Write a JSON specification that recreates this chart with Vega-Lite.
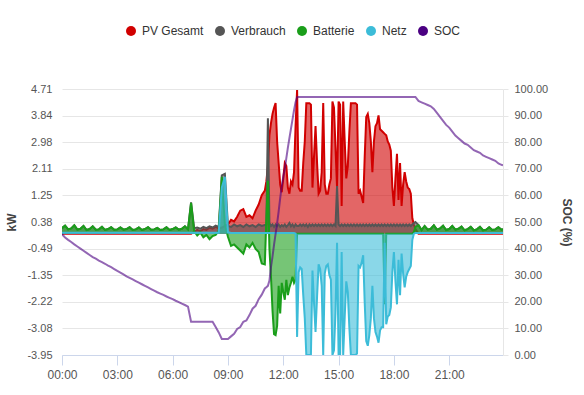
{
  "$schema": "https://vega.github.io/schema/vega-lite/v6.json",
  "width": 441,
  "height": 266,
  "autosize": {"type": "none"},
  "padding": {"left": 62, "top": 89, "right": 81, "bottom": 40},
  "config": {
    "font": "Liberation Sans",
    "view": {"stroke": null},
    "legend": {
      "orient": "none", "legendX": 63, "legendY": -64, "direction": "horizontal",
      "symbolType": "circle", "symbolSize": 100, "symbolStrokeWidth": 0, "symbolOpacity": 1,
      "labelFontSize": 12, "labelColor": "#333333", "labelOffset": 5, "columnPadding": 10
    }
  },
  "data": {"values": [
    {"t":"2024-06-01T00:00","pv":0,"vb":0.18,"bat":0.18,"netz":0.03,"soc":45.4},
    {"t":"2024-06-01T00:10","pv":0,"vb":0.26,"bat":0.26,"netz":0.03,"soc":44.2},
    {"t":"2024-06-01T00:20","pv":0,"vb":0.14,"bat":0.14,"netz":0.03,"soc":43.3},
    {"t":"2024-06-01T00:30","pv":0,"vb":0.17,"bat":0.17,"netz":0.03,"soc":42.5},
    {"t":"2024-06-01T00:40","pv":0,"vb":0.27,"bat":0.27,"netz":0.03,"soc":41.6},
    {"t":"2024-06-01T00:50","pv":0,"vb":0.13,"bat":0.13,"netz":0.03,"soc":40.8},
    {"t":"2024-06-01T01:00","pv":0,"vb":0.16,"bat":0.16,"netz":0.03,"soc":40.0},
    {"t":"2024-06-01T01:10","pv":0,"vb":0.25,"bat":0.25,"netz":0.03,"soc":39.2},
    {"t":"2024-06-01T01:20","pv":0,"vb":0.12,"bat":0.12,"netz":0.03,"soc":38.4},
    {"t":"2024-06-01T01:30","pv":0,"vb":0.15,"bat":0.15,"netz":0.03,"soc":37.6},
    {"t":"2024-06-01T01:40","pv":0,"vb":0.24,"bat":0.24,"netz":0.03,"soc":36.8},
    {"t":"2024-06-01T01:50","pv":0,"vb":0.13,"bat":0.13,"netz":0.03,"soc":36.2},
    {"t":"2024-06-01T02:00","pv":0,"vb":0.14,"bat":0.14,"netz":0.03,"soc":35.5},
    {"t":"2024-06-01T02:10","pv":0,"vb":0.22,"bat":0.22,"netz":0.03,"soc":34.9},
    {"t":"2024-06-01T02:20","pv":0,"vb":0.12,"bat":0.12,"netz":0.03,"soc":34.3},
    {"t":"2024-06-01T02:30","pv":0,"vb":0.15,"bat":0.15,"netz":0.03,"soc":33.6},
    {"t":"2024-06-01T02:40","pv":0,"vb":0.21,"bat":0.21,"netz":0.03,"soc":33.0},
    {"t":"2024-06-01T02:50","pv":0,"vb":0.13,"bat":0.13,"netz":0.03,"soc":32.3},
    {"t":"2024-06-01T03:00","pv":0,"vb":0.14,"bat":0.14,"netz":0.03,"soc":31.6},
    {"t":"2024-06-01T03:10","pv":0,"vb":0.20,"bat":0.20,"netz":0.03,"soc":31.0},
    {"t":"2024-06-01T03:20","pv":0,"vb":0.13,"bat":0.13,"netz":0.03,"soc":30.3},
    {"t":"2024-06-01T03:30","pv":0,"vb":0.15,"bat":0.15,"netz":0.03,"soc":29.6},
    {"t":"2024-06-01T03:40","pv":0,"vb":0.21,"bat":0.21,"netz":0.03,"soc":29.0},
    {"t":"2024-06-01T03:50","pv":0,"vb":0.12,"bat":0.12,"netz":0.03,"soc":28.4},
    {"t":"2024-06-01T04:00","pv":0,"vb":0.14,"bat":0.14,"netz":0.03,"soc":27.8},
    {"t":"2024-06-01T04:10","pv":0,"vb":0.20,"bat":0.20,"netz":0.03,"soc":27.2},
    {"t":"2024-06-01T04:20","pv":0,"vb":0.12,"bat":0.12,"netz":0.03,"soc":26.6},
    {"t":"2024-06-01T04:30","pv":0,"vb":0.15,"bat":0.15,"netz":0.03,"soc":26.0},
    {"t":"2024-06-01T04:40","pv":0,"vb":0.21,"bat":0.21,"netz":0.03,"soc":25.4},
    {"t":"2024-06-01T04:50","pv":0,"vb":0.13,"bat":0.13,"netz":0.03,"soc":24.8},
    {"t":"2024-06-01T05:00","pv":0,"vb":0.14,"bat":0.14,"netz":0.03,"soc":24.2},
    {"t":"2024-06-01T05:10","pv":0,"vb":0.19,"bat":0.19,"netz":0.03,"soc":23.6},
    {"t":"2024-06-01T05:20","pv":0,"vb":0.12,"bat":0.12,"netz":0.03,"soc":23.1},
    {"t":"2024-06-01T05:30","pv":0,"vb":0.14,"bat":0.14,"netz":0.03,"soc":22.6},
    {"t":"2024-06-01T05:40","pv":0,"vb":0.21,"bat":0.21,"netz":0.03,"soc":22.0},
    {"t":"2024-06-01T05:50","pv":0,"vb":0.12,"bat":0.12,"netz":0.03,"soc":21.5},
    {"t":"2024-06-01T06:00","pv":0,"vb":0.15,"bat":0.15,"netz":0.03,"soc":21.0},
    {"t":"2024-06-01T06:10","pv":0,"vb":0.20,"bat":0.20,"netz":0.03,"soc":20.4},
    {"t":"2024-06-01T06:20","pv":0,"vb":0.13,"bat":0.13,"netz":0.03,"soc":19.9},
    {"t":"2024-06-01T06:30","pv":0,"vb":0.16,"bat":0.16,"netz":0.03,"soc":19.3},
    {"t":"2024-06-01T06:40","pv":0,"vb":0.24,"bat":0.24,"netz":0.03,"soc":18.8},
    {"t":"2024-06-01T06:50","pv":0,"vb":0.14,"bat":0.14,"netz":0.03,"soc":18.2},
    {"t":"2024-06-01T07:00","pv":0,"vb":1.02,"bat":1.0,"netz":0.03,"soc":12.5},
    {"t":"2024-06-01T07:10","pv":0.06,"vb":0.18,"bat":0.08,"netz":0.03,"soc":12.5},
    {"t":"2024-06-01T07:20","pv":0.12,"vb":0.2,"bat":-0.06,"netz":0.03,"soc":12.5},
    {"t":"2024-06-01T07:30","pv":0.08,"vb":0.16,"bat":0.04,"netz":0.03,"soc":12.5},
    {"t":"2024-06-01T07:40","pv":0.15,"vb":0.22,"bat":-0.12,"netz":0.03,"soc":12.5},
    {"t":"2024-06-01T07:50","pv":0.12,"vb":0.18,"bat":-0.04,"netz":0.03,"soc":12.5},
    {"t":"2024-06-01T08:00","pv":0.2,"vb":0.24,"bat":-0.18,"netz":0.03,"soc":12.5},
    {"t":"2024-06-01T08:10","pv":0.16,"vb":0.2,"bat":-0.08,"netz":0.03,"soc":12.5},
    {"t":"2024-06-01T08:20","pv":0.22,"vb":0.26,"bat":-0.04,"netz":0.03,"soc":10.5},
    {"t":"2024-06-01T08:30","pv":0.18,"vb":0.22,"bat":0.1,"netz":0.03,"soc":8.5},
    {"t":"2024-06-01T08:40","pv":0.2,"vb":1.9,"bat":1.85,"netz":1.5,"soc":6.0},
    {"t":"2024-06-01T08:50","pv":0.25,"vb":1.95,"bat":0.3,"netz":1.85,"soc":6.0},
    {"t":"2024-06-01T09:00","pv":0.3,"vb":0.25,"bat":-0.1,"netz":0.05,"soc":6.0},
    {"t":"2024-06-01T09:10","pv":0.45,"vb":0.22,"bat":-0.4,"netz":0.02,"soc":7.0},
    {"t":"2024-06-01T09:20","pv":0.4,"vb":0.3,"bat":-0.35,"netz":0.02,"soc":8.0},
    {"t":"2024-06-01T09:30","pv":0.55,"vb":0.24,"bat":-0.45,"netz":0.02,"soc":9.8},
    {"t":"2024-06-01T09:40","pv":0.75,"vb":0.28,"bat":-0.55,"netz":0.02,"soc":10.5},
    {"t":"2024-06-01T09:50","pv":0.8,"vb":0.22,"bat":-0.65,"netz":0.02,"soc":12.5},
    {"t":"2024-06-01T10:00","pv":0.55,"vb":0.3,"bat":-0.35,"netz":0.02,"soc":13.0},
    {"t":"2024-06-01T10:10","pv":0.6,"vb":0.24,"bat":-0.45,"netz":0.02,"soc":15.0},
    {"t":"2024-06-01T10:20","pv":0.5,"vb":0.28,"bat":-0.3,"netz":0.02,"soc":17.4},
    {"t":"2024-06-01T10:30","pv":0.75,"vb":0.22,"bat":-0.5,"netz":0.02,"soc":18.5},
    {"t":"2024-06-01T10:40","pv":0.95,"vb":0.3,"bat":-0.6,"netz":0.02,"soc":21.0},
    {"t":"2024-06-01T10:50","pv":1.25,"vb":0.25,"bat":-0.97,"netz":0.02,"soc":22.7},
    {"t":"2024-06-01T11:00","pv":1.4,"vb":0.28,"bat":-1.0,"netz":0.02,"soc":25.0},
    {"t":"2024-06-01T11:05","pv":1.7,"vb":0.3,"bat":0.5,"netz":0.02,"soc":25.5},
    {"t":"2024-06-01T11:10","pv":2.2,"vb":3.76,"bat":1.72,"netz":0.02,"soc":26.0},
    {"t":"2024-06-01T11:15","pv":3.2,"vb":0.35,"bat":-0.5,"netz":0.02,"soc":28.0},
    {"t":"2024-06-01T11:20","pv":3.6,"vb":0.25,"bat":-1.4,"netz":0.02,"soc":33.0},
    {"t":"2024-06-01T11:25","pv":3.9,"vb":0.3,"bat":-2.5,"netz":0.02,"soc":37.0},
    {"t":"2024-06-01T11:30","pv":4.1,"vb":0.22,"bat":-3.27,"netz":0.02,"soc":41.5},
    {"t":"2024-06-01T11:35","pv":4.25,"vb":0.3,"bat":-3.3,"netz":0.02,"soc":45.5},
    {"t":"2024-06-01T11:40","pv":3.0,"vb":0.24,"bat":-3.0,"netz":0.02,"soc":49.5},
    {"t":"2024-06-01T11:45","pv":2.3,"vb":0.3,"bat":-1.7,"netz":0.02,"soc":54.0},
    {"t":"2024-06-01T11:50","pv":1.6,"vb":0.22,"bat":-2.6,"netz":0.02,"soc":59.0},
    {"t":"2024-06-01T11:55","pv":1.35,"vb":0.28,"bat":-1.6,"netz":0.02,"soc":63.5},
    {"t":"2024-06-01T12:00","pv":1.8,"vb":0.24,"bat":-1.9,"netz":0.02,"soc":67.0},
    {"t":"2024-06-01T12:05","pv":2.3,"vb":0.3,"bat":-2.15,"netz":0.02,"soc":70.0},
    {"t":"2024-06-01T12:10","pv":2.2,"vb":0.22,"bat":-1.5,"netz":0.02,"soc":74.0},
    {"t":"2024-06-01T12:15","pv":1.5,"vb":0.28,"bat":-2.0,"netz":0.02,"soc":78.0},
    {"t":"2024-06-01T12:20","pv":1.3,"vb":0.35,"bat":-1.75,"netz":0.02,"soc":81.5},
    {"t":"2024-06-01T12:25","pv":1.7,"vb":0.24,"bat":-1.6,"netz":0.02,"soc":85.0},
    {"t":"2024-06-01T12:30","pv":1.6,"vb":0.3,"bat":-1.4,"netz":0.02,"soc":88.5},
    {"t":"2024-06-01T12:35","pv":2.0,"vb":0.22,"bat":-1.6,"netz":0.02,"soc":92.0},
    {"t":"2024-06-01T12:40","pv":3.5,"vb":0.3,"bat":-1.5,"netz":0.0,"soc":95.0},
    {"t":"2024-06-01T12:45","pv":4.68,"vb":0.25,"bat":0,"netz":-3.36,"soc":96.9},
    {"t":"2024-06-01T12:50","pv":1.5,"vb":0.25,"bat":0,"netz":-1.25,"soc":97},
    {"t":"2024-06-01T12:55","pv":1.4,"vb":0.3,"bat":0,"netz":-1.1,"soc":97},
    {"t":"2024-06-01T13:00","pv":1.4,"vb":0.25,"bat":0,"netz":-1.15,"soc":97},
    {"t":"2024-06-01T13:05","pv":2.3,"vb":0.3,"bat":0,"netz":-2.0,"soc":97},
    {"t":"2024-06-01T13:10","pv":3.0,"vb":0.25,"bat":0,"netz":-2.75,"soc":97},
    {"t":"2024-06-01T13:15","pv":4.25,"vb":0.3,"bat":0,"netz":-3.95,"soc":97},
    {"t":"2024-06-01T13:20","pv":4.25,"vb":0.22,"bat":0,"netz":-3.95,"soc":97},
    {"t":"2024-06-01T13:25","pv":4.25,"vb":0.3,"bat":0,"netz":-3.95,"soc":97},
    {"t":"2024-06-01T13:30","pv":4.2,"vb":0.25,"bat":0,"netz":-3.95,"soc":97},
    {"t":"2024-06-01T13:35","pv":1.5,"vb":0.3,"bat":0,"netz":-1.2,"soc":97},
    {"t":"2024-06-01T13:40","pv":2.5,"vb":0.25,"bat":0,"netz":-2.25,"soc":97},
    {"t":"2024-06-01T13:45","pv":3.5,"vb":0.3,"bat":0,"netz":-3.2,"soc":97},
    {"t":"2024-06-01T13:50","pv":2.3,"vb":0.25,"bat":0,"netz":-2.05,"soc":97},
    {"t":"2024-06-01T13:55","pv":1.3,"vb":0.3,"bat":0,"netz":-1.0,"soc":97},
    {"t":"2024-06-01T14:00","pv":1.4,"vb":0.25,"bat":0,"netz":-1.15,"soc":97},
    {"t":"2024-06-01T14:05","pv":2.0,"vb":0.3,"bat":0,"netz":-1.7,"soc":97},
    {"t":"2024-06-01T14:10","pv":4.25,"vb":0.25,"bat":0,"netz":-3.95,"soc":97},
    {"t":"2024-06-01T14:15","pv":1.6,"vb":0.3,"bat":0,"netz":-1.3,"soc":97},
    {"t":"2024-06-01T14:20","pv":1.3,"vb":0.25,"bat":0,"netz":-1.05,"soc":97},
    {"t":"2024-06-01T14:25","pv":1.3,"vb":0.3,"bat":0,"netz":-1.0,"soc":97},
    {"t":"2024-06-01T14:30","pv":1.6,"vb":0.25,"bat":0,"netz":-1.35,"soc":97},
    {"t":"2024-06-01T14:35","pv":1.8,"vb":0.3,"bat":0,"netz":-1.5,"soc":97},
    {"t":"2024-06-01T14:40","pv":4.3,"vb":0.25,"bat":0,"netz":-3.95,"soc":97},
    {"t":"2024-06-01T14:45","pv":4.1,"vb":0.3,"bat":0,"netz":-3.8,"soc":97},
    {"t":"2024-06-01T14:50","pv":2.8,"vb":0.25,"bat":0,"netz":-2.55,"soc":97},
    {"t":"2024-06-01T14:55","pv":1.5,"vb":1.55,"bat":0,"netz":-0.3,"soc":97},
    {"t":"2024-06-01T15:00","pv":4.3,"vb":0.3,"bat":0,"netz":-3.95,"soc":97},
    {"t":"2024-06-01T15:05","pv":4.2,"vb":0.25,"bat":0,"netz":-3.95,"soc":97},
    {"t":"2024-06-01T15:10","pv":0.9,"vb":0.3,"bat":0,"netz":-0.6,"soc":97},
    {"t":"2024-06-01T15:15","pv":4.3,"vb":0.25,"bat":0,"netz":-3.95,"soc":97},
    {"t":"2024-06-01T15:20","pv":3.0,"vb":0.3,"bat":0,"netz":-2.7,"soc":97},
    {"t":"2024-06-01T15:25","pv":1.8,"vb":0.25,"bat":0,"netz":-1.55,"soc":97},
    {"t":"2024-06-01T15:30","pv":2.2,"vb":0.3,"bat":0,"netz":-1.9,"soc":97},
    {"t":"2024-06-01T15:35","pv":3.3,"vb":0.25,"bat":0,"netz":-3.05,"soc":97},
    {"t":"2024-06-01T15:40","pv":4.25,"vb":0.3,"bat":0,"netz":-3.95,"soc":97},
    {"t":"2024-06-01T15:45","pv":4.25,"vb":0.25,"bat":0,"netz":-3.95,"soc":97},
    {"t":"2024-06-01T15:50","pv":4.25,"vb":0.3,"bat":0,"netz":-3.95,"soc":97},
    {"t":"2024-06-01T15:55","pv":4.25,"vb":0.25,"bat":0,"netz":-3.95,"soc":97},
    {"t":"2024-06-01T16:00","pv":4.2,"vb":0.3,"bat":0,"netz":-3.9,"soc":97},
    {"t":"2024-06-01T16:05","pv":1.3,"vb":0.25,"bat":0,"netz":-1.05,"soc":97},
    {"t":"2024-06-01T16:10","pv":1.4,"vb":0.3,"bat":0,"netz":-1.1,"soc":97},
    {"t":"2024-06-01T16:15","pv":1.2,"vb":0.25,"bat":0,"netz":-0.95,"soc":97},
    {"t":"2024-06-01T16:20","pv":1.0,"vb":0.3,"bat":0,"netz":-0.7,"soc":97},
    {"t":"2024-06-01T16:25","pv":2.5,"vb":0.25,"bat":0,"netz":-2.25,"soc":97},
    {"t":"2024-06-01T16:30","pv":3.8,"vb":0.3,"bat":0,"netz":-3.5,"soc":97},
    {"t":"2024-06-01T16:35","pv":3.9,"vb":0.25,"bat":0,"netz":-3.65,"soc":97},
    {"t":"2024-06-01T16:40","pv":3.6,"vb":0.3,"bat":0,"netz":-3.3,"soc":97},
    {"t":"2024-06-01T16:45","pv":3.0,"vb":0.25,"bat":0,"netz":-2.75,"soc":97},
    {"t":"2024-06-01T16:50","pv":2.0,"vb":0.3,"bat":0,"netz":-1.7,"soc":97},
    {"t":"2024-06-01T16:55","pv":3.0,"vb":0.25,"bat":0,"netz":-2.75,"soc":97},
    {"t":"2024-06-01T17:00","pv":3.5,"vb":0.3,"bat":0,"netz":-3.2,"soc":97},
    {"t":"2024-06-01T17:05","pv":3.6,"vb":0.25,"bat":0,"netz":-3.35,"soc":97},
    {"t":"2024-06-01T17:10","pv":3.85,"vb":0.3,"bat":0,"netz":-3.55,"soc":97},
    {"t":"2024-06-01T17:15","pv":3.4,"vb":0.25,"bat":0,"netz":-3.15,"soc":97},
    {"t":"2024-06-01T17:20","pv":3.35,"vb":0.3,"bat":0,"netz":-3.05,"soc":97},
    {"t":"2024-06-01T17:25","pv":3.3,"vb":0.25,"bat":0,"netz":-3.05,"soc":97},
    {"t":"2024-06-01T17:30","pv":3.25,"vb":0.3,"bat":-2.3,"netz":-0.3,"soc":97},
    {"t":"2024-06-01T17:35","pv":3.2,"vb":0.25,"bat":0,"netz":-2.95,"soc":97},
    {"t":"2024-06-01T17:40","pv":3.0,"vb":0.3,"bat":0,"netz":-2.7,"soc":97},
    {"t":"2024-06-01T17:45","pv":2.9,"vb":0.25,"bat":0,"netz":-2.65,"soc":97},
    {"t":"2024-06-01T17:50","pv":2.7,"vb":0.3,"bat":0,"netz":-2.4,"soc":97},
    {"t":"2024-06-01T17:55","pv":1.5,"vb":0.25,"bat":0,"netz":-1.25,"soc":97},
    {"t":"2024-06-01T18:00","pv":0.9,"vb":0.3,"bat":0,"netz":-0.6,"soc":97},
    {"t":"2024-06-01T18:05","pv":1.8,"vb":0.25,"bat":0,"netz":-1.55,"soc":97},
    {"t":"2024-06-01T18:10","pv":2.6,"vb":0.3,"bat":0,"netz":-2.3,"soc":97},
    {"t":"2024-06-01T18:15","pv":1.1,"vb":0.25,"bat":0,"netz":-0.85,"soc":97},
    {"t":"2024-06-01T18:20","pv":2.3,"vb":0.3,"bat":0,"netz":-2.0,"soc":97},
    {"t":"2024-06-01T18:25","pv":0.9,"vb":0.25,"bat":0,"netz":-0.65,"soc":97},
    {"t":"2024-06-01T18:30","pv":1.6,"vb":0.3,"bat":0,"netz":-1.3,"soc":97},
    {"t":"2024-06-01T18:35","pv":2.0,"vb":0.25,"bat":0,"netz":-1.75,"soc":97},
    {"t":"2024-06-01T18:40","pv":1.7,"vb":0.3,"bat":0,"netz":-1.4,"soc":97},
    {"t":"2024-06-01T18:45","pv":1.5,"vb":0.25,"bat":0,"netz":-1.25,"soc":97},
    {"t":"2024-06-01T18:50","pv":1.45,"vb":0.3,"bat":0,"netz":-1.15,"soc":97},
    {"t":"2024-06-01T18:55","pv":1.3,"vb":0.25,"bat":0,"netz":-1.05,"soc":97},
    {"t":"2024-06-01T19:00","pv":0.5,"vb":0.3,"bat":0,"netz":-0.2,"soc":97},
    {"t":"2024-06-01T19:05","pv":0.3,"vb":0.35,"bat":0.05,"netz":0.0,"soc":97},
    {"t":"2024-06-01T19:10","pv":0.15,"vb":0.38,"bat":0.22,"netz":0.02,"soc":97},
    {"t":"2024-06-01T19:20","pv":0,"vb":0.28,"bat":0.28,"netz":0.02,"soc":95.5},
    {"t":"2024-06-01T19:30","pv":0,"vb":0.12,"bat":0.12,"netz":0.02,"soc":95.0},
    {"t":"2024-06-01T19:40","pv":0,"vb":0.25,"bat":0.25,"netz":0.02,"soc":94.5},
    {"t":"2024-06-01T19:50","pv":0,"vb":0.13,"bat":0.13,"netz":0.02,"soc":94.0},
    {"t":"2024-06-01T20:00","pv":0,"vb":0.16,"bat":0.16,"netz":0.02,"soc":93.5},
    {"t":"2024-06-01T20:10","pv":0,"vb":0.27,"bat":0.27,"netz":0.02,"soc":92.5},
    {"t":"2024-06-01T20:20","pv":0,"vb":0.13,"bat":0.13,"netz":0.02,"soc":91.0},
    {"t":"2024-06-01T20:30","pv":0,"vb":0.17,"bat":0.17,"netz":0.02,"soc":89.5},
    {"t":"2024-06-01T20:40","pv":0,"vb":0.26,"bat":0.26,"netz":0.02,"soc":88.0},
    {"t":"2024-06-01T20:50","pv":0,"vb":0.12,"bat":0.12,"netz":0.02,"soc":86.5},
    {"t":"2024-06-01T21:00","pv":0,"vb":0.15,"bat":0.15,"netz":0.02,"soc":85.5},
    {"t":"2024-06-01T21:10","pv":0,"vb":0.25,"bat":0.25,"netz":0.02,"soc":84.0},
    {"t":"2024-06-01T21:20","pv":0,"vb":0.13,"bat":0.13,"netz":0.02,"soc":82.5},
    {"t":"2024-06-01T21:30","pv":0,"vb":0.16,"bat":0.16,"netz":0.02,"soc":81.5},
    {"t":"2024-06-01T21:40","pv":0,"vb":0.23,"bat":0.23,"netz":0.02,"soc":80.5},
    {"t":"2024-06-01T21:50","pv":0,"vb":0.11,"bat":0.11,"netz":0.02,"soc":79.5},
    {"t":"2024-06-01T22:00","pv":0,"vb":0.15,"bat":0.15,"netz":0.02,"soc":79.0},
    {"t":"2024-06-01T22:10","pv":0,"vb":0.22,"bat":0.22,"netz":0.02,"soc":78.0},
    {"t":"2024-06-01T22:20","pv":0,"vb":0.11,"bat":0.11,"netz":0.02,"soc":77.0},
    {"t":"2024-06-01T22:30","pv":0,"vb":0.14,"bat":0.14,"netz":0.02,"soc":76.5},
    {"t":"2024-06-01T22:40","pv":0,"vb":0.22,"bat":0.22,"netz":0.02,"soc":76.0},
    {"t":"2024-06-01T22:50","pv":0,"vb":0.11,"bat":0.11,"netz":0.02,"soc":75.0},
    {"t":"2024-06-01T23:00","pv":0,"vb":0.13,"bat":0.13,"netz":0.02,"soc":74.5},
    {"t":"2024-06-01T23:10","pv":0,"vb":0.21,"bat":0.21,"netz":0.02,"soc":74.0},
    {"t":"2024-06-01T23:20","pv":0,"vb":0.12,"bat":0.12,"netz":0.02,"soc":73.5},
    {"t":"2024-06-01T23:30","pv":0,"vb":0.14,"bat":0.14,"netz":0.02,"soc":73.0},
    {"t":"2024-06-01T23:40","pv":0,"vb":0.21,"bat":0.21,"netz":0.02,"soc":72.0},
    {"t":"2024-06-01T23:50","pv":0,"vb":0.13,"bat":0.13,"netz":0.02,"soc":71.5},
    {"t":"2024-06-01T23:55","pv":0,"vb":0.15,"bat":0.15,"netz":0.02,"soc":71.3}
  ]},
  "encoding": {
    "x": {
      "field": "t", "type": "temporal",
      "scale": {"domain": ["2024-06-01T00:00", "2024-06-01T23:55"], "nice": false},
      "axis": {"title": null, "format": "%H:%M", "tickCount": 8, "grid": false,
               "domainColor": "#ccd6eb", "tickColor": "#ccd6eb", "tickSize": 10, "labelPadding": 4,
               "labelFontSize": 12, "labelColor": "#555555", "labelFlush": false, "labelOverlap": false}
    }
  },
  "layer": [
    {
      "layer": [
        {
          "mark": {"type": "area", "fillOpacity": 0.6, "clip": true, "line": {"strokeWidth": 2}},
          "encoding": {
            "y": {"field": "pv", "type": "quantitative", "scale": {"domain": [-3.95, 4.71], "nice": false},
                  "axis": {"title": "kW", "values": [-3.95, -3.08, -2.22, -1.35, -0.49, 0.38, 1.25, 2.11, 2.98, 3.84, 4.71],
                           "tickCount": 11, "labelOverlap": false,
                           "labelExpr": "replace(format(datum.value, '.2f'), '−', '-')",
                           "grid": true, "gridColor": "#e6e6e6", "domain": false, "ticks": false, "labelPadding": 10,
                           "labelFontSize": 11, "labelColor": "#555555", "titleFontSize": 12, "titleFontWeight": "bold",
                           "titleColor": "#444444", "titlePadding": 8}},
            "color": {"datum": "PV Gesamt", "type": "nominal",
                      "scale": {"domain": ["PV Gesamt", "Verbrauch", "Batterie", "Netz", "SOC"],
                                "range": ["#d10000", "#555555", "#1a9e1a", "#3cbcd8", "#4b0082"]}}
          }
        },
        {
          "mark": {"type": "area", "fillOpacity": 0.6, "clip": true, "line": {"strokeWidth": 2}},
          "encoding": {
            "y": {"field": "vb", "type": "quantitative"},
            "color": {"datum": "Verbrauch", "type": "nominal"}
          }
        },
        {
          "mark": {"type": "area", "fillOpacity": 0.6, "clip": true, "line": {"strokeWidth": 2}},
          "encoding": {
            "y": {"field": "bat", "type": "quantitative"},
            "color": {"datum": "Batterie", "type": "nominal"}
          }
        },
        {
          "mark": {"type": "area", "fillOpacity": 0.6, "clip": true, "line": {"strokeWidth": 2}},
          "encoding": {
            "y": {"field": "netz", "type": "quantitative"},
            "color": {"datum": "Netz", "type": "nominal"}
          }
        }
      ]
    },
    {
      "mark": {"type": "line", "strokeWidth": 2, "strokeOpacity": 0.6, "clip": true},
      "encoding": {
        "y": {"field": "soc", "type": "quantitative", "scale": {"domain": [0, 100], "nice": false},
              "axis": {"orient": "right", "title": "SOC (%)", "values": [0, 10, 20, 30, 40, 50, 60, 70, 80, 90, 100],
                       "tickCount": 11, "labelOverlap": false,
                       "format": ".2f", "grid": false, "domain": true, "domainColor": "#e6e6e6", "ticks": true,
                       "tickColor": "#e6e6e6", "tickSize": 5, "labelPadding": 6, "labelFontSize": 11,
                       "labelColor": "#555555", "titleFontSize": 12, "titleFontWeight": "bold", "titleColor": "#444444",
                       "titlePadding": 12}},
        "color": {"datum": "SOC", "type": "nominal"}
      }
    }
  ],
  "resolve": {"scale": {"y": "independent"}}
}
